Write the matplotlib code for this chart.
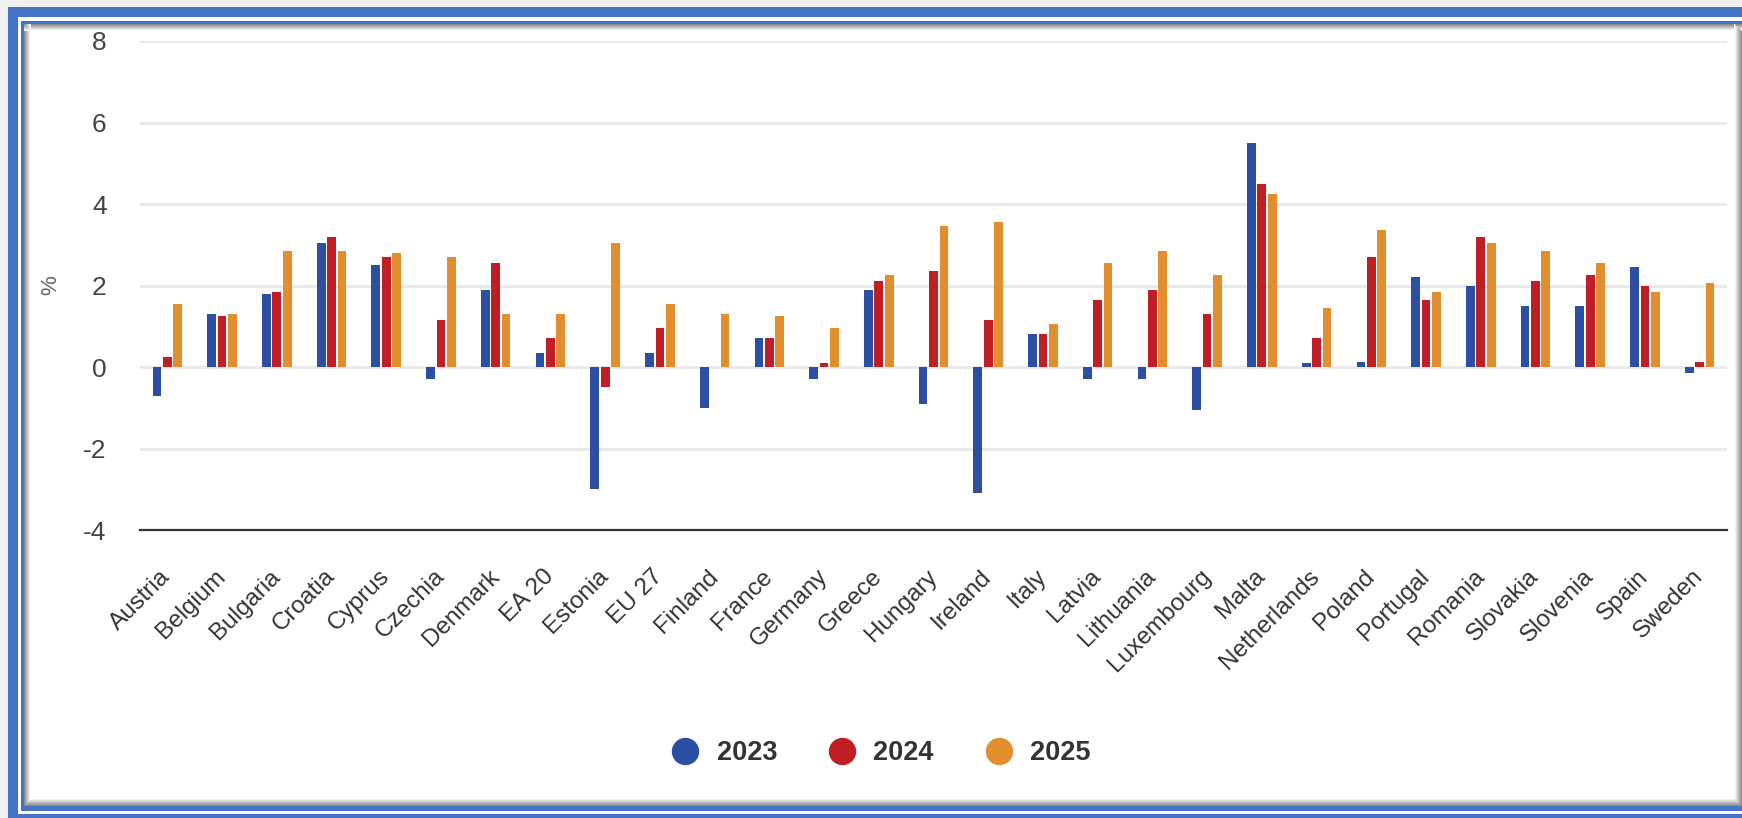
import numpy as np
import matplotlib
matplotlib.use('Agg')
import matplotlib.pyplot as plt
from matplotlib.patches import Rectangle
from matplotlib.lines import Line2D

plt.rcParams['font.family'] = ['Liberation Sans', 'DejaVu Sans']

# Dados (crescimento do PIB, %)
countries = ['Austria', 'Belgium', 'Bulgaria', 'Croatia', 'Cyprus', 'Czechia',
             'Denmark', 'EA 20', 'Estonia', 'EU 27', 'Finland', 'France',
             'Germany', 'Greece', 'Hungary', 'Ireland', 'Italy', 'Latvia',
             'Lithuania', 'Luxembourg', 'Malta', 'Netherlands', 'Poland',
             'Portugal', 'Romania', 'Slovakia', 'Slovenia', 'Spain', 'Sweden']

g2023 = [-0.7, 1.3, 1.8, 3.05, 2.5, -0.3, 1.9, 0.35, -3.0, 0.35, -1.0, 0.7,
         -0.3, 1.9, -0.9, -3.1, 0.8, -0.3, -0.3, -1.05, 5.5, 0.1, 0.12,
         2.2, 2.0, 1.5, 1.5, 2.45, -0.15]
g2024 = [0.25, 1.25, 1.85, 3.2, 2.7, 1.15, 2.55, 0.7, -0.5, 0.95, 0.0, 0.7,
         0.1, 2.1, 2.35, 1.15, 0.8, 1.65, 1.9, 1.3, 4.5, 0.7, 2.7,
         1.65, 3.2, 2.1, 2.25, 2.0, 0.12]
g2025 = [1.55, 1.3, 2.85, 2.85, 2.8, 2.7, 1.3, 1.3, 3.05, 1.55, 1.3, 1.25,
         0.95, 2.25, 3.45, 3.55, 1.05, 2.55, 2.85, 2.25, 4.25, 1.45, 3.35,
         1.85, 3.05, 2.85, 2.55, 1.85, 2.05]

years = ['2023', '2024', '2025']
colors = ['#2c4fa3', '#bf1e24', '#e08e2e']
series = [g2023, g2024, g2025]

W, H = 1742, 818
fig = plt.figure(figsize=(W / 100, H / 100), dpi=100)
fig.patch.set_facecolor('#f0f0f0')


def px_rect(x0, y0, x1, y1, color):
    # retângulo em pixels (origem no topo à esquerda)
    r = Rectangle((x0 / W, 1 - y1 / H), (x1 - x0) / W, (y1 - y0) / H,
                  transform=fig.transFigure, facecolor=color,
                  edgecolor='none', zorder=-10)
    fig.add_artist(r)


# moldura azul dupla
px_rect(8, 7, W + 5, H + 5, '#4472c4')
px_rect(18, 17, W + 5, 813.5, 'white')
px_rect(21, 21, W + 5, 810.5, '#4472c4')
px_rect(24, 24, W + 5, 806, 'white')

# sombra interna do painel
for i in range(7):
    g = 0.55 + 0.45 * i / 6
    c = (g, g, g)
    px_rect(24 + i, 24, 25 + i, 806, c)
    px_rect(24, 24 + i, W + 5, 25 + i, c)
for i in range(8):
    g = 1.0 - 0.45 * i / 7
    c = (g, g, g)
    px_rect(1734 + i, 24 + i, 1735 + i, 806, c)
    px_rect(24 + 8 - i, 798 + i, 1734 + i, 799 + i, c)

ax = fig.add_axes([140 / W, 1 - 530 / H, (1727 - 140) / W, (530 - 41) / H])
ax.set_facecolor('none')

x = np.arange(len(countries))
offsets = [-0.19, 0.0, 0.19]
for vals, off, col in zip(series, offsets, colors):
    ax.bar(x + off, vals, width=0.16, color=col, linewidth=0, zorder=3)

ax.set_xlim(-0.5, len(countries) - 0.5)
ax.set_ylim(-4, 8)
ax.set_yticks([-4, -2, 0, 2, 4, 6, 8])
ax.set_yticklabels(['-4', '-2', '0', '2', '4', '6', '8'])
ax.grid(axis='y', color='#e8e8e8', linewidth=2.0, zorder=0)
ax.set_axisbelow(True)

for s in ['top', 'right', 'left']:
    ax.spines[s].set_visible(False)
ax.spines['bottom'].set_color('#333333')
ax.spines['bottom'].set_linewidth(1.6)
ax.spines['bottom'].set_zorder(4)

ax.tick_params(axis='y', length=0, pad=24, labelsize=19, labelcolor='#444444')
ax.tick_params(axis='x', length=0, pad=31, labelsize=17.5, labelcolor='#333333')
ax.set_xticks(x)
ax.set_xticklabels(countries, rotation=45, ha='right', va='center',
                   rotation_mode='anchor')

ax.set_ylabel('%', fontsize=16, color='#666666')
ax.yaxis.set_label_coords((61 - 140) / 1587, 0.5)

handles = [Line2D([], [], marker='o', linestyle='', markersize=18.7,
                  markerfacecolor=c, markeredgecolor=c) for c in colors]
fig.legend(handles, years, loc='center', bbox_to_anchor=(881 / W, 1 - 753 / H),
           ncol=3, frameon=False, handlelength=1.0, handletextpad=0.65,
           columnspacing=1.9, borderpad=0,
           prop={'size': 19.5, 'weight': 'bold'}, labelcolor='#333333')

fig.savefig('out.png', dpi=100, facecolor=fig.get_facecolor())
